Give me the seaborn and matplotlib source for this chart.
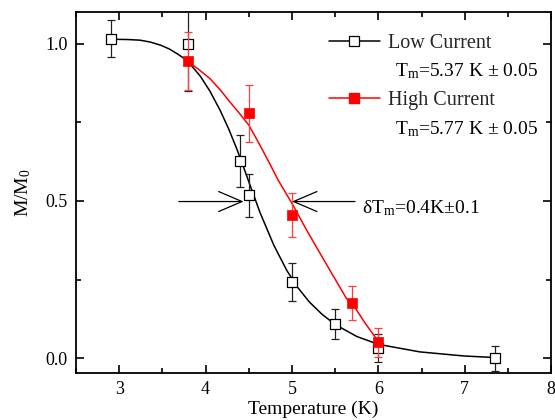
#! /usr/bin/env python3
import pandas as pd
import seaborn as sns
import matplotlib as mpl
import matplotlib.pyplot as plt
from matplotlib.lines import Line2D

# measured points, low current (open squares)
t_low = [2.9, 3.8, 4.4, 4.5, 5.0, 5.5, 6.0, 7.35]
m_low = [1.016, 1.0, 0.626, 0.518, 0.243, 0.108, 0.033, 0.0]
err_low = [0.06, 0.15, 0.082, 0.068, 0.06, 0.048, 0.045, 0.04]

# measured points, high current (filled squares)
t_high = [3.8, 4.5, 5.0, 5.7, 6.0]
m_high = [0.944, 0.778, 0.455, 0.175, 0.05]
err_high = [0.092, 0.09, 0.069, 0.055, 0.045]

# fit curves
fit_t_low = [2.9, 3.1, 3.24, 3.36, 3.48, 3.58, 3.67, 3.73, 3.8, 3.94, 4.05,
             4.17, 4.27, 4.36, 4.44, 4.5, 4.63, 4.79, 4.94, 5.06, 5.2, 5.35,
             5.5, 5.75, 6.0, 6.48, 6.99, 7.35]
fit_m_low = [1.014, 1.013, 1.011, 1.005, 0.995, 0.983, 0.968, 0.957, 0.942,
             0.896, 0.849, 0.787, 0.727, 0.666, 0.607, 0.561, 0.463, 0.359,
             0.279, 0.227, 0.179, 0.139, 0.107, 0.069, 0.044, 0.02, 0.007,
             0.002]
fit_t_high = [3.8, 3.92, 4.05, 4.17, 4.28, 4.39, 4.5, 4.6, 4.68, 4.76, 4.84,
              4.92, 5.0, 5.17, 5.37, 5.63, 5.71, 5.85, 6.0]
fit_m_high = [0.942, 0.918, 0.889, 0.853, 0.815, 0.779, 0.741, 0.692, 0.651,
              0.609, 0.566, 0.529, 0.492, 0.407, 0.312, 0.19, 0.169, 0.11,
              0.053]

labels = ["Low Current", "High Current"]
tm_texts = [r"$\mathregular{T_m}$=5.37 K $\pm$ 0.05",
            r"$\mathregular{T_m}$=5.77 K $\pm$ 0.05"]
dtm_text = r"δ$\mathregular{T_m}$=0.4K±0.1"

RED = "#ff0000"
RED_ERR = "#ff4040"


def configure_plot():
    sns.set_theme(style="ticks")
    plt.rcParams["font.family"] = ["Liberation Serif", "DejaVu Serif"]
    plt.rcParams.update({
        "mathtext.fontset": "custom",
        "mathtext.rm": "Liberation Serif",
        "mathtext.it": "Liberation Serif:italic",
        "mathtext.bf": "Liberation Serif:bold",
        "axes.linewidth": 1.3,
        "axes.edgecolor": "black",
        "xtick.direction": "in",
        "ytick.direction": "in",
        "xtick.top": True,
        "ytick.right": True,
    })


def main():
    configure_plot()
    fig = plt.figure(figsize=(5.55, 4.2), dpi=100)
    ax = fig.add_axes([0.137, 0.112, 0.856, 0.859])

    low = pd.DataFrame({"T": t_low, "M": m_low, "err": err_low})
    high = pd.DataFrame({"T": t_high, "M": m_high, "err": err_high})
    fit_low = pd.DataFrame({"T": fit_t_low, "M": fit_m_low})
    fit_high = pd.DataFrame({"T": fit_t_high, "M": fit_m_high})

    # low current
    sns.lineplot(data=fit_low, x="T", y="M", sort=False, color="black",
                 lw=1.1, ax=ax, zorder=2)
    ax.errorbar(low["T"], low["M"], yerr=low["err"], fmt="none",
                ecolor="#222222", elinewidth=0.9, capsize=3, capthick=0.9,
                zorder=3)
    sns.scatterplot(data=low, x="T", y="M", marker="s", s=52, color="white",
                    edgecolor="black", linewidth=0.9, ax=ax, zorder=4)

    # high current
    sns.lineplot(data=fit_high, x="T", y="M", sort=False, color=RED,
                 lw=1.1, ax=ax, zorder=5)
    ax.errorbar(high["T"], high["M"], yerr=high["err"], fmt="none",
                ecolor=RED_ERR, elinewidth=0.9, capsize=3, capthick=0.9,
                zorder=6)
    sns.scatterplot(data=high, x="T", y="M", marker="s", s=58, color=RED,
                    edgecolor=RED, linewidth=0.5, ax=ax, zorder=7)

    ax.set_xlim(2.5, 8)
    ax.set_ylim(-0.047, 1.1)
    ax.set_xticks([3, 4, 5, 6, 7, 8])
    ax.set_yticks([0.0, 0.5, 1.0])
    ax.set_yticklabels(["0.0", "0.5", "1.0"])
    ax.xaxis.set_minor_locator(mpl.ticker.MultipleLocator(0.5))
    ax.yaxis.set_minor_locator(mpl.ticker.MultipleLocator(0.25))
    ax.tick_params(which="major", length=6, width=1.2, labelsize=13, pad=6,
                   color="black", labelcolor="black")
    ax.tick_params(which="minor", length=3.5, width=1.2, color="black")
    ax.tick_params(which="both", top=True, right=True, direction="in")
    for sp in ax.spines.values():
        sp.set_visible(True)
        sp.set_color("black")

    ax.set_xlabel("Temperature (K)", fontsize=14, labelpad=2, color="black")
    ax.set_ylabel(r"$\mathregular{M/M_0}$", fontsize=14, labelpad=9,
                  color="black")

    handles = [
        Line2D([], [], color="black", lw=1.1, marker="s", ms=7,
               mfc="white", mec="black", mew=0.9),
        Line2D([], [], color=RED, lw=1.1, marker="s", ms=7.5,
               mfc=RED, mec=RED),
    ]
    ax.legend(handles, labels, loc="upper left", bbox_to_anchor=(0.533, 0.94),
              frameon=False, fontsize=14.5, handlelength=2.5,
              handletextpad=0.4, labelspacing=1.9, borderpad=0,
              borderaxespad=0)
    for i, txt in enumerate(tm_texts):
        ax.text(0.672, 0.823 - i * 0.161, txt, transform=ax.transAxes,
                fontsize=14, va="baseline", ha="left", color="black")

    # width of the transition
    arrow = dict(arrowstyle="->, head_length=1.4, head_width=0.6",
                 color="black", lw=0.9, shrinkA=0, shrinkB=0)
    ax.annotate("", xy=(4.44, 0.498), xytext=(3.69, 0.498),
                arrowprops=arrow, zorder=8)
    ax.annotate("", xy=(5.0, 0.498), xytext=(5.73, 0.498),
                arrowprops=arrow, zorder=8)
    ax.text(0.601, 0.443, dtm_text, transform=ax.transAxes, fontsize=14,
            va="baseline", ha="left", color="black")

    plt.savefig("out.png", dpi=100)


if __name__ == "__main__":
    main()
